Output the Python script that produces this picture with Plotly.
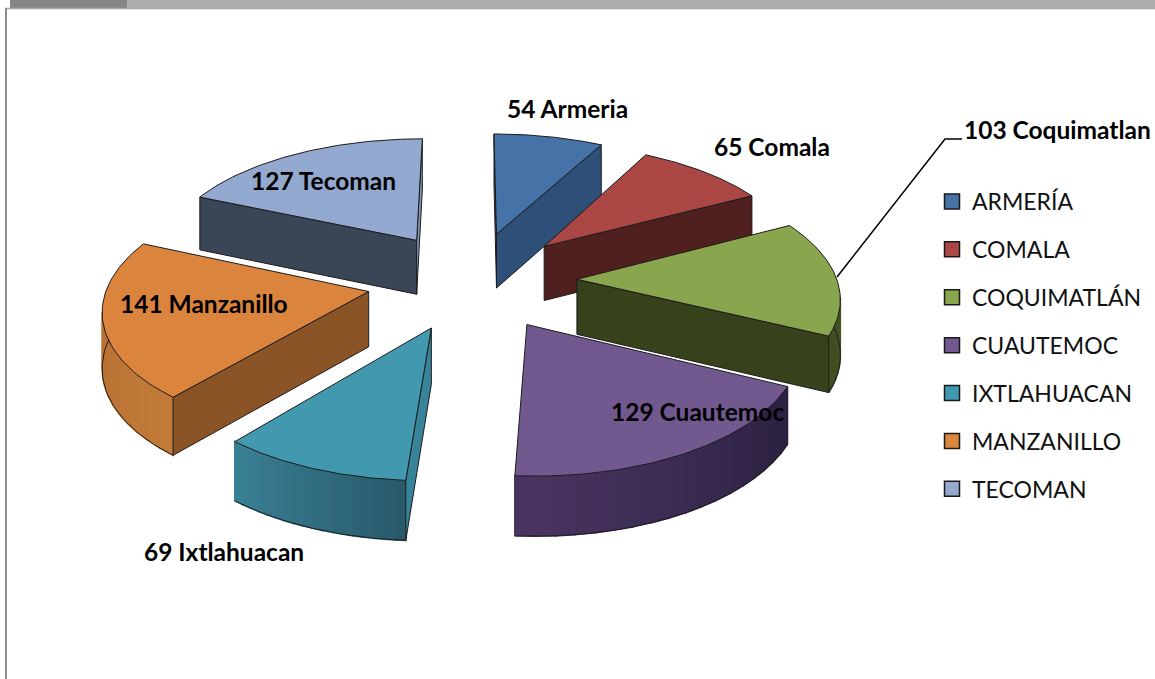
import math
import plotly.graph_objects as go

# ---- data ----
categories = ["ARMERÍA", "COMALA", "COQUIMATLÁN", "CUAUTEMOC", "IXTLAHUACAN", "MANZANILLO", "TECOMAN"]
label_names = ["Armeria", "Comala", "Coquimatlan", "Cuautemoc", "Ixtlahuacan", "Manzanillo", "Tecoman"]
values = [54, 65, 103, 129, 69, 141, 127]

# ---- styles ----
top_colors = ["#4572A7", "#AA4643", "#89A54E", "#71588F", "#4198AF", "#DB843D", "#93A9CF"]
start_face = ["#2E5078", "#4F201E", "#37421C", "#2D2340", "#37849A", "#8A5427", "#3A4556"]
end_face = ["#2E5078", "#4F201E", "#37421C", "#2D2340", "#37849A", "#8A5427", "#7F93B5"]
wall_a = ["#2E5078", "#4F201E", "#56692F", "#2A2040", "#28596A", "#C27A38", "#7F93B5"]
wall_b = ["#2E5078", "#4F201E", "#3F4D22", "#4A3560", "#3A8196", "#AE6A30", "#7F93B5"]
draw_order = [0, 6, 1, 5, 4, 3, 2]
label_pos = [(567, 108.5), (772, 146.5), (1057, 129.5), (697, 411.5), (224, 551.5), (204, 303.5), (323, 180.5)]
LINE = "#1c1c1c"

W, H = 1155, 679
CX, CY = 472, 280
R, E, TILT, D, DEPTH = 260, 105, 0.47, 2200, 55


def project(x, y, z):
    s = D / (D + y)
    return CX + x * s, CY - y * TILT * s - z * math.sqrt(s)


def mix(a, b, f):
    ca = [int(a[i:i + 2], 16) for i in (1, 3, 5)]
    cb = [int(b[i:i + 2], 16) for i in (1, 3, 5)]
    return "#%02x%02x%02x" % tuple(round(p + (q - p) * f) for p, q in zip(ca, cb))


def area(pts):
    return sum(pts[i][0] * pts[(i + 1) % len(pts)][1] - pts[(i + 1) % len(pts)][0] * pts[i][1]
               for i in range(len(pts))) / 2


def poly(pts, color, name, line_w=1.0, line_c=LINE):
    xs = [p[0] for p in pts] + [pts[0][0]]
    ys = [p[1] for p in pts] + [pts[0][1]]
    return go.Scatter(x=xs, y=ys, mode="lines", fill="toself", fillcolor=color,
                      line=dict(color=line_c, width=line_w), showlegend=False,
                      hoverinfo="skip", name=name)


fig = go.Figure()
total = sum(values)
angles = [0]
for v in values:
    angles.append(angles[-1] + v / total * 2 * math.pi)

for i in draw_order:
    a0, a1 = angles[i], angles[i + 1]
    mid = (a0 + a1) / 2
    ox, oy = E * math.sin(mid), E * math.cos(mid)
    rim = lambda a, z: project(ox + R * math.sin(a), oy + R * math.cos(a), z)
    ap = lambda z: project(ox, oy, z)
    name = categories[i]

    # outer wall as thin shaded bands
    n = 18
    for k in range(n):
        b0 = a0 + (a1 - a0) * k / n
        b1 = a0 + (a1 - a0) * (k + 1) / n
        pts = [rim(b0, 0), rim(b1, 0), rim(b1, -DEPTH), rim(b0, -DEPTH)]
        if area(pts) < 0:
            c = mix(wall_a[i], wall_b[i], (k + .5) / n)
            fig.add_trace(poly(pts, c, name, 1.6, c))

    # wall outline
    low = [rim(a0 + (a1 - a0) * k / 60, -DEPTH) for k in range(61)]
    low = [p for k, p in enumerate(low) if math.cos(a0 + (a1 - a0) * k / 60) < 0.08]
    if low:
        fig.add_trace(go.Scatter(x=[p[0] for p in low], y=[p[1] for p in low], mode="lines",
                                 line=dict(color=LINE, width=1), showlegend=False, hoverinfo="skip"))

    # cut faces
    for a, col, flip in ((a0, start_face[i], False), (a1, end_face[i], True)):
        pts = [ap(0), rim(a, 0), rim(a, -DEPTH), ap(-DEPTH)]
        sign = area(pts) * (-1 if flip else 1)
        if sign < 0:
            fig.add_trace(poly(pts, col, name))

    # top
    pts = [ap(0)] + [rim(a0 + (a1 - a0) * k / 60, 0) for k in range(61)]
    fig.add_trace(poly(pts, top_colors[i], name))

# legend entries
for i, name in enumerate(categories):
    fig.add_trace(go.Scatter(x=[None], y=[None], mode="markers", name=name, legendgroup=name,
                             marker=dict(symbol="square", size=15, color=top_colors[i],
                                         line=dict(color="#1a1a1a", width=1.5))))

# data labels
for i, (x, y) in enumerate(label_pos):
    fig.add_annotation(x=x, y=y, text=f"<b>{values[i]} {label_names[i]}</b>", showarrow=False,
                       font=dict(family="Lato", size=24.5, color="#000000"))

shapes = [
    dict(type="rect", x0=10, x1=127, y0=0, y1=8, fillcolor="#868686", line_width=0),
    dict(type="rect", x0=127, x1=W, y0=0, y1=8, fillcolor="#AEAEAE", line_width=0),
    dict(type="line", x0=5, x1=W, y0=8.5, y1=8.5, line=dict(color="#A8A8A8", width=1.5)),
    dict(type="line", x0=6, x1=6, y0=8, y1=H, line=dict(color="#8E8E8E", width=2)),
    dict(type="path", path="M 837 277 L 945 139 L 962 139", line=dict(color="#000000", width=1.5)),
]

fig.update_layout(
    width=W, height=H, margin=dict(l=0, r=0, t=0, b=0),
    paper_bgcolor="white", plot_bgcolor="white", shapes=shapes,
    xaxis=dict(range=[0, W], visible=False, fixedrange=True),
    yaxis=dict(range=[H, 0], visible=False, fixedrange=True),
    legend=dict(x=932 / W, y=1 - 180 / H, xanchor="left", yanchor="top", bgcolor="rgba(0,0,0,0)",
                font=dict(family="Lato", size=23, color="#111111"), tracegroupgap=15, itemclick=False),
    hovermode=False,
)
fig.write_html("out.html", post_script="document.body.style.margin='0';",
               config=dict(displayModeBar=False))
